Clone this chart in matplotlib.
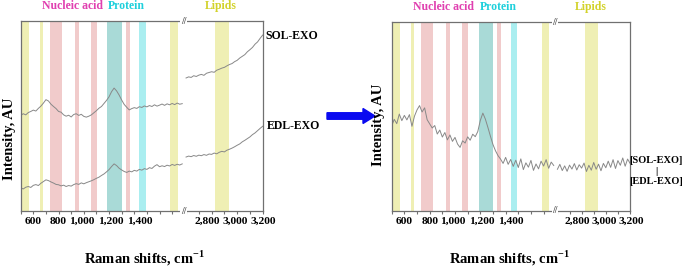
import matplotlib
matplotlib.use('Agg')
import matplotlib.pyplot as plt
from matplotlib.patches import FancyArrow
from matplotlib.transforms import ScaledTranslation

plt.rcParams['font.family'] = ['Liberation Serif', 'DejaVu Serif']
plt.rcParams['font.weight'] = 'bold'
plt.rcParams['mathtext.fontset'] = 'custom'
plt.rcParams['mathtext.rm'] = 'Liberation Serif:bold'
plt.rcParams['mathtext.bf'] = 'Liberation Serif:bold'

# Raman shift grid (cm-1), low-wavenumber part and high-wavenumber part
shift_lo = list(range(500, 1781, 20))
shift_hi = list(range(2600, 3201, 20))

# intensities in arbitrary units (0 = bottom of frame, 100 = top)
sol_lo = [50.3, 51.2, 50.6, 51.8, 52.4, 53.1, 52.6, 54.0, 55.2, 56.8,
          58.6, 57.9, 56.2, 55.0, 53.9, 52.4, 52.0, 50.6, 49.9, 50.4,
          49.5, 50.8, 51.2, 50.3, 50.9, 49.8, 49.4, 49.9, 50.6, 51.7,
          52.8, 54.1, 55.0, 56.6, 58.2, 60.1, 62.8, 64.7, 63.2, 61.0,
          58.4, 56.1, 54.6, 53.2, 53.9, 54.4, 54.0, 54.9, 54.5, 55.3,
          54.8, 55.5, 55.0, 55.9, 55.2, 55.7, 56.3, 55.6, 56.4, 55.9,
          56.6, 56.0, 56.8, 56.2, 56.5]
sol_hi = [70.0, 70.6, 70.3, 71.2, 70.8, 71.5, 71.9, 71.4, 72.5, 72.9,
          73.3, 73.0, 74.1, 74.6, 75.2, 75.6, 76.4, 77.1, 77.6, 78.6,
          79.3, 80.5, 81.4, 82.3, 83.8, 84.9, 86.1, 87.8, 89.0, 90.9, 92.6]
edl_lo = [12.2, 11.6, 12.5, 12.9, 12.4, 13.5, 13.9, 13.4, 14.6, 15.5,
          16.4, 16.0, 15.3, 14.7, 14.0, 13.8, 13.2, 13.6, 12.9, 13.4,
          13.1, 13.9, 14.4, 14.0, 14.8, 14.3, 14.9, 15.4, 15.9, 16.5,
          17.2, 17.8, 18.7, 19.5, 20.6, 21.8, 23.4, 24.8, 23.9, 22.5,
          21.6, 20.8, 20.3, 21.0, 20.6, 21.4, 21.0, 21.9, 21.5, 22.3,
          21.9, 22.8, 22.4, 23.6, 24.4, 23.3, 23.8, 23.4, 24.1, 23.7,
          24.5, 24.0, 24.6, 24.2, 24.8]
edl_hi = [28.4, 28.9, 28.6, 29.2, 28.8, 29.4, 29.1, 29.7, 29.3, 30.0,
          29.8, 30.5, 30.1, 30.9, 31.4, 31.1, 32.0, 32.5, 33.1, 33.8,
          34.6, 35.3, 36.4, 37.2, 38.1, 39.0, 40.2, 41.1, 42.3, 43.5, 44.6]
diff_lo = [45.0, 48.5, 46.2, 51.3, 47.8, 50.6, 48.2, 51.0, 44.8, 50.2,
           53.5, 55.8, 52.4, 54.6, 48.3, 46.1, 43.9, 45.2, 40.7, 42.8,
           39.1, 41.5, 37.6, 40.2, 36.8, 38.9, 35.4, 33.6, 37.1, 35.9,
           39.2, 37.4, 40.6, 39.3, 42.0, 47.9, 51.8, 48.6, 44.2, 39.5,
           35.1, 31.8, 29.2, 27.4, 25.1, 28.3, 24.6, 27.2, 23.5, 26.8,
           22.9, 27.5, 21.8, 25.4, 23.1, 26.7, 21.4, 24.8, 22.2, 26.3,
           23.7, 27.1, 22.5, 25.8, 24.0]
diff_hi = [22.0, 24.6, 21.3, 23.8, 20.9, 24.2, 22.1, 25.0, 21.6, 24.4,
           22.6, 25.3, 20.8, 24.1, 21.5, 25.6, 22.0, 24.7, 21.2, 25.1,
           22.8, 26.3, 23.0, 27.1, 22.4, 26.6, 24.1, 28.0, 23.6, 27.4, 25.2]

# assignment bands (cm-1)
band_lo = [500, 654, 730, 930, 1055, 1187, 1331, 1439, 1685, 2828]
band_hi = [563, 678, 830, 962, 1104, 1300, 1364, 1491, 1745, 2933]
band_col = ['#efefb4', '#efefb4', '#f1cbcb', '#f1cbcb', '#f1cbcb',
            '#a9dad7', '#f1cbcb', '#aaeef0', '#efefb4', '#efefb4']

groups = ['Nucleic acid', 'Protein', 'Lipids']
group_pos = [910, 1340, 2875]
group_col = ['#e040b0', '#1fd0dc', '#d2d22a']

ticks_lo = [600, 800, 1000, 1200, 1400]
labels_lo = ['600', '800', '1,000', '1,200', '1,400']
ticks_hi = [2800, 3000, 3200]
labels_hi = ['2,800', '3,000', '3,200']

W, H = 685, 268
fig = plt.figure(figsize=(W / 100, H / 100), dpi=100)


def px_axes(x0, x1, y0, y1):
    return fig.add_axes([x0 / W, 1 - y1 / H, (x1 - x0) / W, (y1 - y0) / H])


def nudge(ax, shifts):
    # the original tick labels sit a little off their ticks
    for lab, dx in zip(ax.get_xticklabels(), shifts):
        lab.set_transform(lab.get_transform()
                          + ScaledTranslation(dx / 100, 0, fig.dpi_scale_trans))


def panel(x0, xb, x1, y0, y1, series):
    a = px_axes(x0, xb, y0, y1)
    b = px_axes(xb, x1, y0, y1)
    a.set_xlim(500, 1790)
    b.set_xlim(2580, 3200)
    for ax in (a, b):
        ax.set_ylim(0, 100)
        ax.set_yticks([])
        for s in ax.spines.values():
            s.set_color('#707070')
            s.set_linewidth(0.9)
        ax.tick_params(axis='x', direction='out', length=2.5, width=0.8,
                       color='#707070', pad=2, labelsize=8.2)
        ax.tick_params(axis='x', which='minor', direction='out', length=2.5,
                       width=0.8, color='#707070')
        for lo, hi, c in zip(band_lo, band_hi, band_col):
            ax.axvspan(lo, hi, color=c, lw=0, zorder=0)
    a.spines['right'].set_visible(False)
    b.spines['left'].set_visible(False)
    a.set_xticks(ticks_lo, labels=labels_lo)
    a.set_xticks(range(500, 1790, 100), minor=True)
    b.set_xticks(ticks_hi, labels=labels_hi)
    b.set_xticks(range(2600, 3201, 100), minor=True)
    nudge(a, [0, 0, -2, 1.5, 5])
    nudge(b, [-4, -2, 1])
    for ylo, yhi in series:
        a.plot(shift_lo, ylo, color='#888888', lw=0.7)
        b.plot(shift_hi, yhi, color='#888888', lw=0.7)
    # labels of the assignment groups above the frame
    for g, p, c in zip(groups, group_pos, group_col):
        ax = a if p < 1790 else b
        ax.text(p, 1.08, g, color=c, fontsize=8.5, ha='center', va='center',
                transform=ax.get_xaxis_transform())
    # break marks
    for yy in (0, 1):
        b.text(0, yy, '//', transform=b.transAxes, ha='center', va='center',
               fontsize=7, color='#505050',
               bbox=dict(facecolor='white', edgecolor='none', pad=0.3))
    return a, b


panel(20.7, 183.5, 262.7, 21, 211, [(sol_lo, sol_hi), (edl_lo, edl_hi)])
panel(391.7, 555, 630, 22.3, 210.7, [(diff_lo, diff_hi)])

fig.text(265 / W, 1 - 36 / H, 'SOL-EXO', fontsize=8.5, ha='left', va='center')
fig.text(267 / W, 1 - 126 / H, 'EDL-EXO', fontsize=8.5, ha='left', va='center')
fig.text(656 / W, 1 - 171 / H, '[SOL-EXO]\n|\n[EDL-EXO]', fontsize=7.5,
         ha='center', va='center', linespacing=1.25)

for xc, yc in ((10, 139), (379, 125)):
    fig.text(xc / W, 1 - yc / H, 'Intensity, AU', rotation=90, fontsize=10.5,
             ha='center', va='center')
for xc in (145, 510):
    fig.text(xc / W, 1 - 258 / H, r'Raman shifts, cm$^{\mathbf{-1}}$',
             fontsize=10.5, ha='center', va='center')

fig.add_artist(FancyArrow(3.27, 1.52, 0.36, 0, width=0.065, head_width=0.15,
                          head_length=0.12, length_includes_head=False,
                          color='#0a0af0', transform=fig.dpi_scale_trans))

fig.savefig('out.png', dpi=100)
